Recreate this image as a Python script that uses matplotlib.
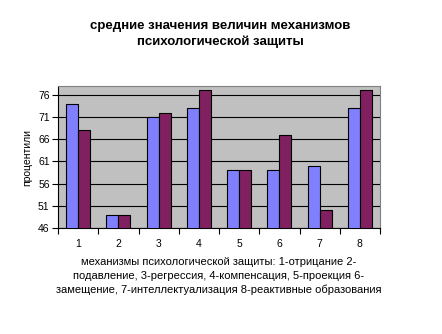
import matplotlib
matplotlib.use("Agg")
import matplotlib.pyplot as plt
import numpy as np

categories = ["1", "2", "3", "4", "5", "6", "7", "8"]
series1 = [74, 49, 71, 73, 59, 59, 60, 73]
series2 = [68, 49, 72, 77, 59, 67, 50, 77]
yticks = [46, 51, 56, 61, 66, 71, 76]

title = "средние значения величин механизмов\nпсихологической защиты"
xlabel = ("механизмы психологической защиты: 1-отрицание 2-\n"
          "подавление, 3-регрессия, 4-компенсация, 5-проекция 6-\n"
          "замещение, 7-интеллектуализация 8-реактивные образования")
ylabel = "процентили"

plt.rcParams['font.family'] = ['Liberation Sans', 'DejaVu Sans']

fig = plt.figure(figsize=(4.42, 3.34), dpi=100)
ax = fig.add_axes([58/442, 1-228/334, (380-58)/442, (228-86)/334])
ax.set_facecolor("#C0C0C0")

x = np.arange(len(categories))
w = 0.3
ax.bar(x - w/2, series1, width=w, color="#8080FF", edgecolor="black", linewidth=0.8, zorder=3)
ax.bar(x + w/2, series2, width=w, color="#802060", edgecolor="black", linewidth=0.8, zorder=3)

ax.set_ylim(46, 78)
ax.set_xlim(-0.5, len(categories) - 0.5)
ax.set_yticks(yticks)
ax.set_yticklabels([str(v) for v in yticks], fontsize=7.5)
ax.yaxis.grid(True, color="black", linewidth=0.8, zorder=1)
ax.set_axisbelow(True)

ax.set_xticks(x)
ax.set_xticklabels(categories, fontsize=7.5)
ax.set_xticks(np.arange(len(categories) + 1) - 0.5, minor=True)
ax.tick_params(axis='x', which='major', length=0, pad=8)
ax.tick_params(axis='x', which='minor', length=4, direction='out', width=0.8)
ax.tick_params(axis='y', length=4, direction='out', width=0.8, pad=2)

for s in ["top", "right"]:
    ax.spines[s].set_color("#808080")
for s in ["left", "bottom"]:
    ax.spines[s].set_color("black")

ax.set_xlabel(xlabel, fontsize=8, linespacing=1.45, labelpad=6)
ax.set_ylabel(ylabel, fontsize=7.5, labelpad=4)
fig.text(220/442, 1-34/334, title, ha="center", va="center", fontsize=9.5, fontweight="bold", linespacing=1.35)

fig.savefig("out.png", dpi=100)
